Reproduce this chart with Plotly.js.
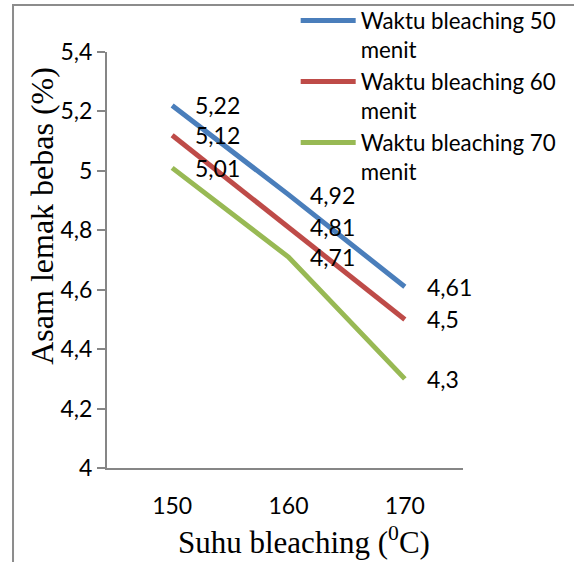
<!DOCTYPE html>
<html>
<head>
<meta charset="utf-8">
<script src="https://cdn.plot.ly/plotly-3.0.1.min.js"></script>
<style>html,body{margin:0;padding:0;background:#fff;}#chart{width:574px;height:562px;}</style>
</head>
<body>
<div id="chart"></div>
<script>
var suhu = [150, 160, 170];
var seriesNames = ["Waktu bleaching 50<br>menit", "Waktu bleaching 60<br>menit", "Waktu bleaching 70<br>menit"];
var waktu50 = [5.22, 4.92, 4.61];
var waktu60 = [5.12, 4.81, 4.5];
var waktu70 = [5.01, 4.71, 4.3];
var yTicks = [4, 4.2, 4.4, 4.6, 4.8, 5, 5.2, 5.4];
var xTitle = "Suhu bleaching (<sup>0</sup>C)";
var yTitle = "Asam lemak bebas (%)";

var colors = ["#4A7EBB", "#BE4B48", "#98B954"];
var allSeries = [waktu50, waktu60, waktu70];
var sansFont = "Lato, sans-serif";
var serifFont = "Liberation Serif, Times New Roman, serif";

var traces = allSeries.map(function (vals, i) {
  return {
    x: suhu, y: vals, type: "scatter", mode: "lines",
    name: seriesNames[i],
    line: {color: colors[i], width: 5}
  };
});

var shifts = [21, 20, 20];
var annotations = [];
allSeries.forEach(function (vals) {
  vals.forEach(function (v, j) {
    annotations.push({
      x: suhu[j], y: v, xref: "x", yref: "y",
      text: String(v).replace(".", ","),
      showarrow: false, xanchor: "left", yanchor: "middle",
      xshift: shifts[j],
      font: {family: sansFont, size: 23, color: "#000"}
    });
  });
});
annotations.push({
  xref: "paper", yref: "paper", x: 0.553, y: -0.175,
  xanchor: "center", yanchor: "middle", showarrow: false,
  text: xTitle, font: {family: serifFont, size: 31, color: "#000"}
});
annotations.push({
  xref: "paper", yref: "paper", x: -0.183, y: 0.606,
  xanchor: "center", yanchor: "middle", showarrow: false, textangle: -90,
  text: yTitle, font: {family: serifFont, size: 32, color: "#000"}
});

var layout = {
  width: 574, height: 562,
  margin: {l: 107, r: 111, t: 52, b: 94, autoexpand: false},
  paper_bgcolor: "#fff", plot_bgcolor: "#fff",
  separators: ",.",
  showlegend: true,
  legend: {
    x: 0.53, y: 1.126, xanchor: "left", yanchor: "top",
    valign: "top", tracegroupgap: 0, itemwidth: 55,
    font: {family: sansFont, size: 22.3, color: "#000"},
    bgcolor: "rgba(0,0,0,0)"
  },
  xaxis: {
    range: [144.4, 175], tickvals: suhu, ticks: "", showgrid: false, zeroline: false,
    showline: true, linecolor: "#868686", linewidth: 2, ticklabelstandoff: 16,
    tickfont: {family: sansFont, size: 23, color: "#000"}
  },
  yaxis: {
    range: [4, 5.4], tickvals: yTicks, ticks: "outside", ticklen: 8, tickwidth: 2, tickcolor: "#868686",
    showgrid: false, zeroline: false,
    showline: true, linecolor: "#868686", linewidth: 2,
    tickfont: {family: sansFont, size: 23, color: "#000"}
  },
  shapes: [{
    type: "rect", xref: "paper", yref: "paper",
    x0: -0.264, x1: 1.6, y0: -0.5, y1: 1.113,
    line: {color: "#8C8C8C", width: 2}
  }],
  annotations: annotations
};

Plotly.newPlot("chart", traces, layout, {displayModeBar: false, staticPlot: true});
</script>
</body>
</html>
